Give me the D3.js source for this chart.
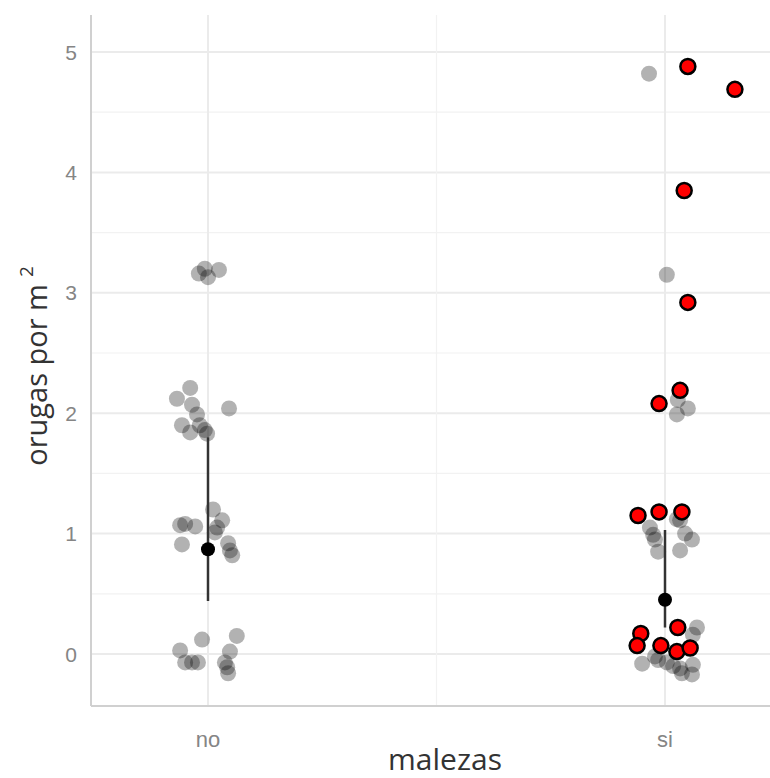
<!DOCTYPE html>
<html>
<head>
<meta charset="utf-8">
<script src="https://cdn.jsdelivr.net/npm/d3@7"></script>
<style>
  body { margin: 0; background: #fff; }
  svg { display: block; }
</style>
</head>
<body>
<div id="chart"></div>
<script>
// categorias del eje x
const categories = ["no", "si"];
const yTicks = [0, 1, 2, 3, 4, 5];

// puntos grises (todos los datos), jitter en unidades de categoria
const grayNo = [3.16, 3.20, 3.13, 3.19, 2.21, 2.12, 2.07, 1.99, 2.04, 1.90, 1.84, 1.90, 1.86, 1.83,
  1.07, 1.08, 1.06, 1.20, 1.11, 1.05, 1.01, 0.91, 0.92, 0.86, 0.82,
  0.12, 0.15, 0.03, -0.07, -0.07, -0.07, 0.02, -0.07, -0.11, -0.16];
const jitterNo = [-0.020, -0.007, 0.000, 0.024, -0.039, -0.068, -0.035, -0.024, 0.046, -0.057, -0.039, -0.018, -0.007, -0.002,
  -0.061, -0.050, -0.028, 0.011, 0.031, 0.020, 0.015, -0.057, 0.044, 0.048, 0.053,
  -0.013, 0.063, -0.061, -0.050, -0.035, -0.022, 0.048, 0.037, 0.042, 0.044];

const graySi = [4.82, 3.15, 2.11, 2.04, 1.99, 1.05, 0.99, 0.95, 0.85, 1.11, 1.00, 0.95, 0.86, 1.12,
  0.22, 0.16, -0.08, -0.02, -0.05, -0.07, -0.12, -0.16, -0.09, -0.17, -0.10];
const jitterSi = [-0.035, 0.004, 0.028, 0.050, 0.026, -0.033, -0.026, -0.022, -0.015, 0.033, 0.044, 0.059, 0.033, 0.026,
  0.070, 0.061, -0.050, -0.022, -0.015, 0.004, 0.033, 0.037, 0.061, 0.059, 0.018];

// puntos rojos (solo "si")
const redSi = [4.88, 4.69, 3.85, 2.92, 2.19, 2.08, 1.15, 1.18, 1.18, 0.17, 0.22, 0.07, 0.07, 0.02, 0.05];
const jitterRed = [0.050, 0.153, 0.042, 0.050, 0.033, -0.013, -0.059, -0.013, 0.037, -0.053, 0.028, -0.061, -0.009, 0.026, 0.055];

// media y barras de error
const means = [0.87, 0.45];
const lower = [0.44, 0.22];
const upper = [1.80, 1.03];

const width = 770, height = 778;
const pLeft = 91, pRight = 770, pTop = 15, pBottom = 706;

const svg = d3.select("#chart").append("svg")
  .attr("width", width)
  .attr("height", height);

const x = d3.scaleLinear().domain([1, 2]).range([208, 665]);
const y = d3.scaleLinear().domain([0, 5]).range([654, 52]);

// grilla
const minorY = d3.range(0.5, 5.5, 1);
svg.append("g").selectAll("line").data(minorY).join("line")
  .attr("x1", pLeft).attr("x2", pRight)
  .attr("y1", d => y(d)).attr("y2", d => y(d))
  .attr("stroke", "#f2f2f2").attr("stroke-width", 1.2);
svg.append("g").selectAll("line").data(yTicks).join("line")
  .attr("x1", pLeft).attr("x2", pRight)
  .attr("y1", d => y(d)).attr("y2", d => y(d))
  .attr("stroke", "#ebebeb").attr("stroke-width", 2);
svg.append("g").selectAll("line").data([1, 1.5, 2]).join("line")
  .attr("x1", d => x(d)).attr("x2", d => x(d))
  .attr("y1", pTop).attr("y2", pBottom)
  .attr("stroke", d => d === 1.5 ? "#f2f2f2" : "#ebebeb")
  .attr("stroke-width", d => d === 1.5 ? 1.2 : 2);

// ejes
svg.append("line")
  .attr("x1", pLeft).attr("x2", pLeft).attr("y1", pTop).attr("y2", pBottom)
  .attr("stroke", "#d0d0d0").attr("stroke-width", 2);
svg.append("line")
  .attr("x1", pLeft).attr("x2", pRight).attr("y1", pBottom).attr("y2", pBottom)
  .attr("stroke", "#d0d0d0").attr("stroke-width", 2);

svg.append("g").selectAll("text").data(yTicks).join("text")
  .attr("x", 77).attr("y", d => y(d))
  .attr("dy", "0.36em")
  .attr("text-anchor", "end")
  .attr("font-family", "Liberation Sans, Arial, sans-serif")
  .attr("font-size", 21)
  .attr("fill", "#858585")
  .text(d => d);

svg.append("g").selectAll("text").data(categories).join("text")
  .attr("x", (d, i) => x(i + 1)).attr("y", 747)
  .attr("text-anchor", "middle")
  .attr("font-family", "Liberation Sans, Arial, sans-serif")
  .attr("font-size", 22)
  .attr("fill", "#858585")
  .text(d => d);

svg.append("text")
  .attr("x", 445).attr("y", 770)
  .attr("text-anchor", "middle")
  .attr("font-family", "Open Sans, sans-serif")
  .attr("font-size", 30)
  .attr("fill", "#333")
  .text("malezas");

const yt = svg.append("text")
  .attr("transform", "translate(47,366) rotate(-90)")
  .attr("text-anchor", "middle")
  .attr("font-family", "Open Sans, sans-serif")
  .attr("font-size", 29)
  .attr("fill", "#333");
yt.append("tspan").text("orugas por m");
yt.append("tspan").attr("dx", 7).attr("dy", -14).attr("font-size", 19).text("2");

// puntos grises
const gray = grayNo.map((v, i) => ({ v, c: 1 + jitterNo[i] }))
  .concat(graySi.map((v, i) => ({ v, c: 2 + jitterSi[i] })));
svg.append("g").selectAll("circle").data(gray).join("circle")
  .attr("cx", d => x(d.c)).attr("cy", d => y(d.v))
  .attr("r", 8)
  .attr("fill", "#000")
  .attr("fill-opacity", 0.3);

// barras de error y medias
svg.append("g").selectAll("line").data(means).join("line")
  .attr("x1", (d, i) => x(i + 1)).attr("x2", (d, i) => x(i + 1))
  .attr("y1", (d, i) => y(lower[i])).attr("y2", (d, i) => y(upper[i]))
  .attr("stroke", "#333").attr("stroke-width", 2.5);
svg.append("g").selectAll("circle").data(means).join("circle")
  .attr("cx", (d, i) => x(i + 1)).attr("cy", d => y(d))
  .attr("r", 7)
  .attr("fill", "#000");

// puntos rojos
svg.append("g").selectAll("circle").data(redSi).join("circle")
  .attr("cx", (d, i) => x(2 + jitterRed[i])).attr("cy", d => y(d))
  .attr("r", 7.5)
  .attr("fill", "#ff0000")
  .attr("stroke", "#000")
  .attr("stroke-width", 2.5);
</script>
</body>
</html>
